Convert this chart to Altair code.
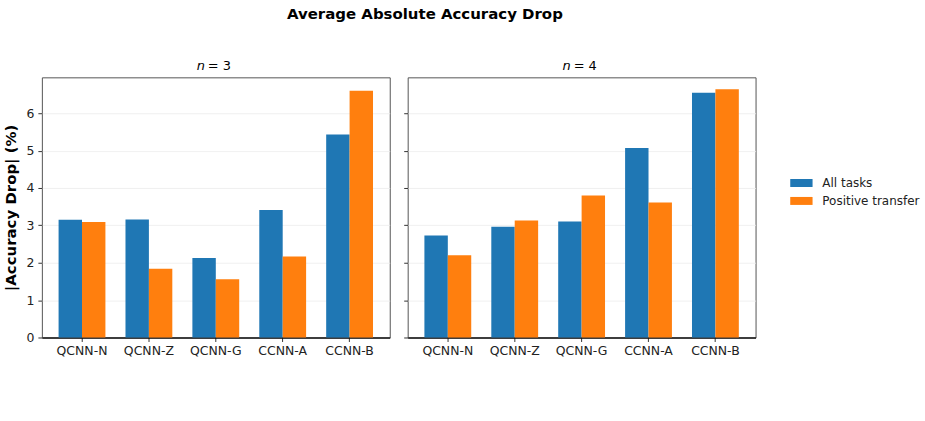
import altair as alt
import pandas as pd

# Models compared and the two series of accuracy drops (%) per qubit count
models = ["QCNN-N", "QCNN-Z", "QCNN-G", "CCNN-A", "CCNN-B"]
series = ["All tasks", "Positive transfer"]
all_tasks_n3 = [3.15, 3.16, 2.13, 3.41, 5.43]
positive_n3 = [3.09, 1.84, 1.56, 2.17, 6.60]
all_tasks_n4 = [2.73, 2.96, 3.10, 5.07, 6.55]
positive_n4 = [2.20, 3.13, 3.80, 3.61, 6.64]
y_ticks = [0, 1, 2, 3, 4, 5, 6]

FONT = "DejaVu Sans"
PANEL_W, PANEL_H = 349, 261
colors = ["#1f77b4", "#ff7f0e"]


def frame(all_vals, pos_vals):
    rows = []
    for m, a, p in zip(models, all_vals, pos_vals):
        rows.append({"model": m, "series": series[0], "value": a})
        rows.append({"model": m, "series": series[1], "value": p})
    return pd.DataFrame(rows)


def panel(n, all_vals, pos_vals, first):
    yaxis = alt.Axis(
        values=y_ticks,
        labels=first,
        title="|Accuracy Drop| (%)" if first else None,
        titleFont=FONT, titleFontSize=15, titleFontWeight="bold",
        titleColor="#000", titlePadding=7,
        labelFont=FONT, labelFontSize=12.5, labelColor="#222",
        labelPadding=4, tickSize=4, tickColor="#333", domain=False,
        grid=True, gridColor="#ececec", gridWidth=0.8,
    )
    bars = alt.Chart(frame(all_vals, pos_vals)).mark_bar().encode(
        x=alt.X("model:N", sort=models, title=None,
                scale=alt.Scale(paddingInner=0.3, paddingOuter=0.25),
                axis=alt.Axis(labelAngle=0, labelFont=FONT, labelFontSize=12.5,
                              labelColor="#222", tickSize=4, tickColor="#333",
                              domain=True, domainColor="#111", domainWidth=1.3,
                              labelPadding=3)),
        xOffset=alt.XOffset("series:N", sort=series),
        y=alt.Y("value:Q", scale=alt.Scale(domain=[0, 6.96], nice=False),
                axis=yaxis),
        color=alt.Color("series:N", sort=series, title=None,
                        scale=alt.Scale(domain=series, range=colors)),
    )
    head = pd.DataFrame({"n": ["n"], "rest": [f"= {n}"]})
    n_text = alt.Chart(head).mark_text(
        font=FONT, fontSize=13, fontStyle="italic", align="right",
        baseline="bottom", color="#000"
    ).encode(text="n:N", x=alt.value(PANEL_W / 2 - 11), y=alt.value(-4))
    rest_text = alt.Chart(head).mark_text(
        font=FONT, fontSize=13, align="left", baseline="bottom", color="#000"
    ).encode(text="rest:N", x=alt.value(PANEL_W / 2 - 8), y=alt.value(-4))
    return alt.layer(bars, n_text, rest_text).properties(
        width=PANEL_W, height=PANEL_H
    )


chart = alt.hconcat(
    panel(3, all_tasks_n3, positive_n3, True),
    panel(4, all_tasks_n4, positive_n4, False),
    spacing=12,
).properties(
    title=alt.TitleParams(
        "Average Absolute Accuracy Drop", anchor="middle", font=FONT,
        fontSize=15, fontWeight="bold", color="#000", dx=-37, offset=38,
    ),
    padding={"left": 3, "top": 6, "right": 5, "bottom": 5},
).configure_view(
    stroke="#555", strokeWidth=1
).configure_legend(
    orient="none", legendX=754, legendY=98, labelFont=FONT, labelFontSize=12,
    labelColor="#222", symbolType="M-1.4,-0.5H1.4V0.5H-1.4Z", symbolSize=256,
    symbolStrokeWidth=0, symbolOpacity=1, rowPadding=4, labelOffset=13,
).configure_axis(labelFont=FONT)

chart.save("out.html", embed_options={"renderer": "svg", "actions": False})
